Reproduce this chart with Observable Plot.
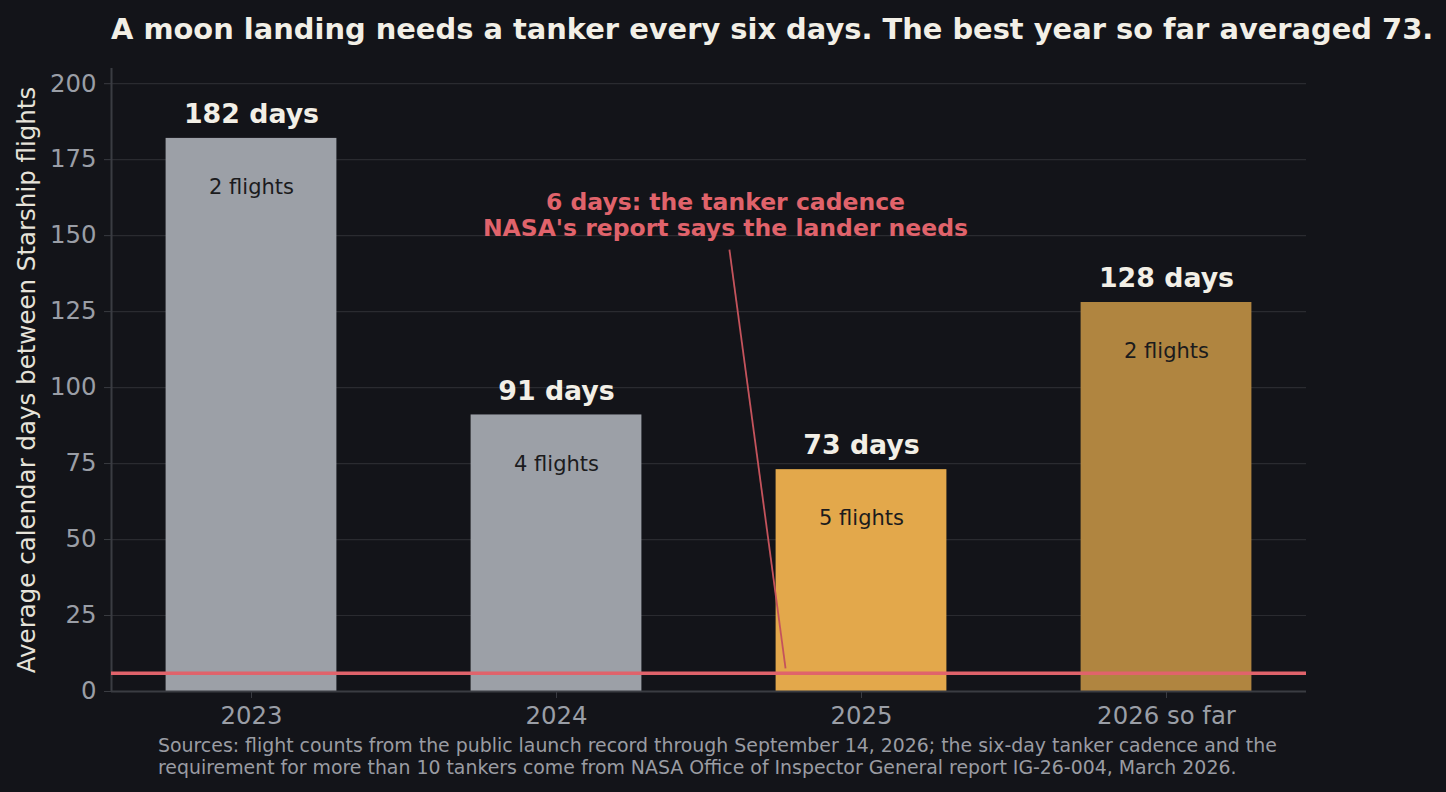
<!DOCTYPE html>
<html>
<head>
<meta charset="utf-8">
<script src="https://cdn.jsdelivr.net/npm/d3@7"></script>
<script src="https://cdn.jsdelivr.net/npm/@observablehq/plot@0.6"></script>
<style>
  html, body { margin: 0; padding: 0; background: #131419; }
  #wrap { position: relative; width: 1446px; height: 792px; background: #131419; overflow: hidden; font-family: "DejaVu Sans", sans-serif; }
  #title { position: absolute; left: 111px; top: 12px; font-size: 28.9px; font-weight: bold; color: #f2efe6; white-space: nowrap; line-height: 34px; }
  #chart { position: absolute; left: 0; top: 50px; }
  #footer { position: absolute; left: 158px; top: 734px; font-size: 18.9px; color: #9a9ca3; line-height: 22px; white-space: nowrap; }
</style>
</head>
<body>
<div id="wrap">
  <div id="title">A moon landing needs a tanker every six days. The best year so far averaged 73.</div>
  <div id="chart"></div>
  <div id="footer">Sources: flight counts from the public launch record through September 14, 2026; the six-day tanker cadence and the<br>requirement for more than 10 tankers come from NASA Office of Inspector General report IG-26-004, March 2026.</div>
</div>
<script>
// ---- data ----
const years = ["2023", "2024", "2025", "2026 so far"];
const avgDays = [182, 91, 73, 128];
const flights = [2, 4, 5, 2];
const cadenceDays = 6;
const yTicks = [0, 25, 50, 75, 100, 125, 150, 175, 200];
const annotationText = ["6 days: the tanker cadence", "NASA's report says the lander needs"];
// annotation anchor points (x in category index units, y in days)
const annotationLabelAt = [1.554, 157.0];
const annotationFrom = [1.567, 145.4];
const annotationTo = [1.751, 7.6];

// ---- style ----
const barColors = ["#9ca0a7", "#9ca0a7", "#e3a84b", "#b08540"];
const xDomain = [-0.459, 3.459];
const yDomain = [0, 205];
const halfBar = 0.28;

const rows = years.map((y, i) => ({i, year: y, days: avgDays[i], flights: flights[i]}));

const chart = Plot.plot({
  width: 1446,
  height: 684,
  marginLeft: 111,
  marginRight: 140,
  marginTop: 18,
  marginBottom: 43,
  style: {background: "#131419", fontFamily: "DejaVu Sans", color: "#9a9ea6", overflow: "visible"},
  x: {domain: xDomain},
  y: {domain: yDomain},
  color: {domain: years, range: barColors},
  marks: [
    Plot.gridY(yTicks, {stroke: "#2a2b30", strokeOpacity: 1, strokeWidth: 1.2}),
    Plot.rectY(rows, {x1: d => d.i - halfBar, x2: d => d.i + halfBar, y1: 0, y2: "days", fill: "year"}),
    Plot.ruleY([0], {stroke: "#3a3c42", strokeWidth: 2}),
    Plot.ruleX([xDomain[0]], {y1: yDomain[0], y2: yDomain[1], stroke: "#3a3c42", strokeWidth: 2}),
    Plot.axisY(yTicks, {tickSize: 7, tickPadding: 8, fontSize: 24.4, stroke: "#3a3c42", fill: "#9a9ea6",
      label: "Average calendar days between Starship flights", labelAnchor: "center", labelArrow: "none", labelOffset: 94}),
    Plot.axisX([0, 1, 2, 3], {tickSize: 7, tickPadding: 8, fontSize: 24.4, stroke: "#3a3c42", fill: "#9a9ea6",
      tickFormat: i => years[i], label: null}),
    Plot.ruleY([cadenceDays], {stroke: "#e0636b", strokeWidth: 3.5}),
    Plot.link([0], {x1: () => annotationFrom[0], y1: () => annotationFrom[1], x2: () => annotationTo[0], y2: () => annotationTo[1],
      stroke: "#c4535c", strokeWidth: 1.8}),
    Plot.text([annotationText.join("\n")], {x: () => annotationLabelAt[0], y: () => annotationLabelAt[1], text: d => d,
      fill: "#e0636b", fontSize: 23.5, fontWeight: "bold", lineHeight: 1.106, lineAnchor: "middle"}),
    Plot.text(rows, {x: "i", y: "days", text: d => `${d.days} days`, dy: -24, fill: "#f2efe6", fontSize: 26.8, fontWeight: "bold"}),
    Plot.text(rows, {x: "i", y: "days", text: d => `${d.flights} flights`, dy: 49, fill: "#1b1b1d", fontSize: 21})
  ]
});
// style axis label colour
chart.querySelectorAll("g[aria-label='y-axis label'] text").forEach(t => { t.setAttribute("fill", "#e6e3da"); t.style.fontSize = "24.5px"; });
document.getElementById("chart").appendChild(chart);
</script>
</body>
</html>
